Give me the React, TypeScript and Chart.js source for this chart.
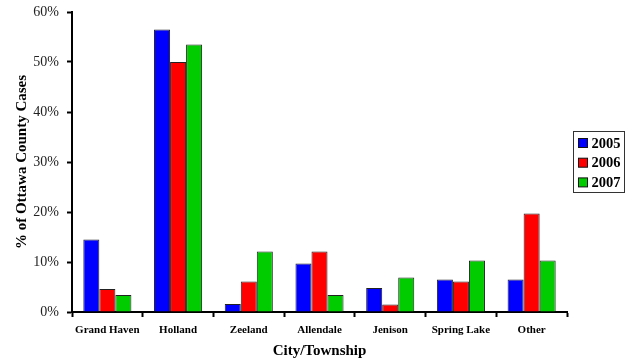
import React, { useEffect, useRef } from "react";
import { Chart, registerables } from "chart.js";

Chart.register(...registerables);

const categories = ["Grand Haven", "Holland", "Zeeland", "Allendale", "Jenison", "Spring Lake", "Other"];
const seriesLabels = ["2005", "2006", "2007"];
const values2005 = [14.5, 56.5, 1.6, 9.7, 4.8, 6.5, 6.5];
const values2006 = [4.6, 50.0, 6.1, 12.1, 1.5, 6.1, 19.7];
const values2007 = [3.4, 53.5, 12.1, 3.4, 6.9, 10.3, 10.3];
const seriesColors = ["#0000FF", "#FF0000", "#00CC00"];
const yTicks = [0, 10, 20, 30, 40, 50, 60];

const SERIF = "'Liberation Serif', 'Times New Roman', serif";

const boxLegend = {
  id: "boxLegend",
  afterDraw(chart: any) {
    const ctx = chart.ctx;
    const x0 = 573.5, y0 = 131.5, w = 51, h = 61;
    ctx.save();
    ctx.fillStyle = "#fff";
    ctx.fillRect(x0, y0, w, h);
    ctx.strokeStyle = "#333";
    ctx.lineWidth = 1;
    ctx.strokeRect(x0, y0, w, h);
    ctx.font = `bold 14.5px ${SERIF}`;
    ctx.textBaseline = "middle";
    ctx.textAlign = "left";
    chart.data.datasets.forEach((ds: any, i: number) => {
      const cy = 143 + i * 19.7;
      ctx.fillStyle = ds.backgroundColor;
      ctx.fillRect(578.5, cy - 4.5, 9, 9);
      ctx.strokeStyle = "#111";
      ctx.strokeRect(578.5, cy - 4.5, 9, 9);
      ctx.fillStyle = "#000";
      ctx.fillText(ds.label, 591.5, cy + 1);
    });
    ctx.restore();
  },
};

export default function App() {
  const ref = useRef<HTMLCanvasElement>(null);
  useEffect(() => {
    document.body.style.margin = "0";
    const chart = new Chart(ref.current!, {
      type: "bar",
      data: {
        labels: categories,
        datasets: [values2005, values2006, values2007].map((vals, i) => ({
          label: seriesLabels[i],
          data: vals,
          backgroundColor: seriesColors[i],
          borderColor: "#222",
          borderWidth: 1,
          categoryPercentage: 0.68,
          barPercentage: 1.0,
        })),
      },
      options: {
        animation: false,
        responsive: false,
        layout: { padding: { left: 0, right: 69, top: 12, bottom: 0 } },
        plugins: { legend: { display: false }, tooltip: { enabled: false } },
        scales: {
          x: {
            grid: {
              drawOnChartArea: false,
              drawTicks: true,
              tickLength: 5,
              tickWidth: 2,
              tickColor: "#000",
              offset: true,
            },
            border: { display: true, color: "#000", width: 2 },
            ticks: {
              color: "#000",
              padding: 7,
              maxRotation: 0,
              autoSkip: false,
              font: { family: SERIF, size: 11, weight: "bold" },
            },
            title: {
              display: true,
              text: "City/Township",
              color: "#000",
              padding: { top: 0, bottom: 4 },
              font: { family: SERIF, size: 15, weight: "bold" },
            },
            afterFit(scale: any) {
              scale.height = 52;
              scale.paddingLeft = 0;
              scale.paddingRight = 0;
            },
          },
          y: {
            min: 0,
            max: 60,
            afterBuildTicks(scale: any) {
              scale.ticks = yTicks.map((v) => ({ value: v }));
            },
            grid: {
              drawOnChartArea: false,
              drawTicks: true,
              tickLength: 5,
              tickWidth: 2,
              tickColor: "#000",
            },
            border: { display: true, color: "#000", width: 2 },
            ticks: {
              color: "#222",
              padding: 8,
              font: { family: SERIF, size: 14 },
              callback: (v: any) => `${v}%`,
            },
            title: {
              display: true,
              text: "% of Ottawa County Cases",
              color: "#000",
              padding: { top: 13, bottom: 0 },
              font: { family: SERIF, size: 15, weight: "bold" },
            },
            afterFit(scale: any) {
              scale.width = 72;
              scale.paddingTop = 0;
              scale.paddingBottom = 0;
            },
          },
        },
      },
      plugins: [boxLegend],
    });
    return () => chart.destroy();
  }, []);
  return (
    <canvas
      ref={ref}
      width={636}
      height={364}
      style={{ position: "absolute", left: 0, top: 0, display: "block" }}
    />
  );
}
